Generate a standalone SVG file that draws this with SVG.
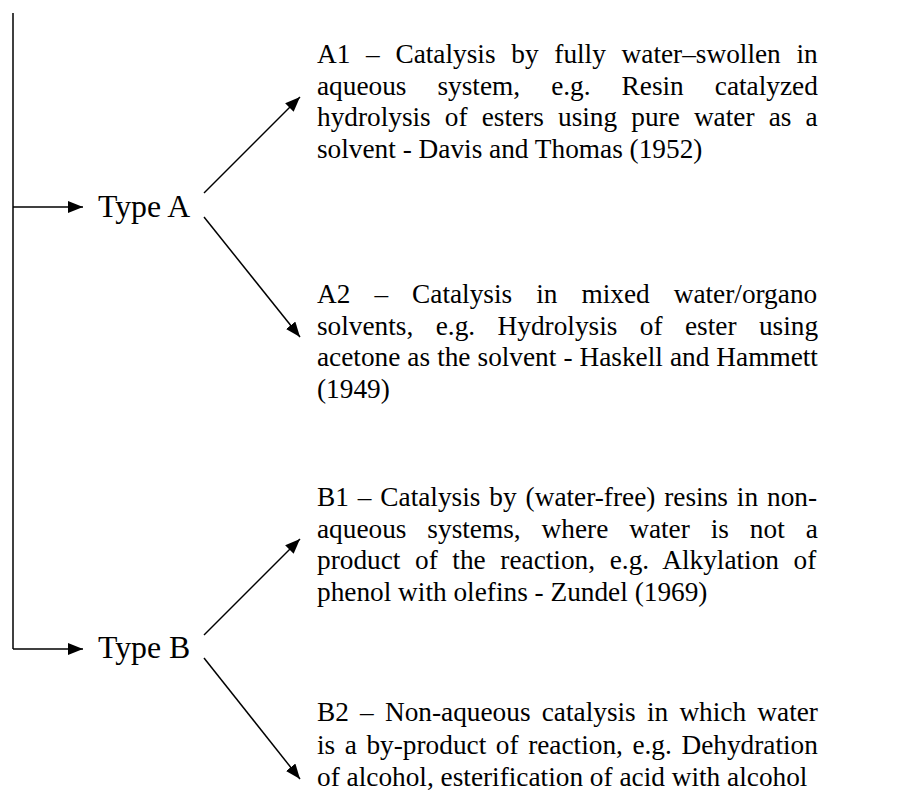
<svg xmlns="http://www.w3.org/2000/svg" width="910" height="800" viewBox="0 0 910 800">
  <style>
    .bg { fill: #ffffff; }
    .conn { fill: none; stroke: #000000; stroke-width: 1.5; }
    .head { fill: #000000; }
    .type { font-family: "Liberation Serif", "Times New Roman", serif; font-size: 31.8px; fill: #000000; }
    .para { font-family: "Liberation Serif", "Times New Roman", serif; font-size: 27.3px; fill: #000000; }
  </style>
  <defs>
    <marker id="arrow" viewBox="0 0 15 12" refX="15" refY="6" markerWidth="15" markerHeight="12" markerUnits="userSpaceOnUse" orient="auto">
      <path class="head" d="M0,0 L15,6 L0,12 Z"/>
    </marker>
  </defs>
  <rect class="bg" x="0" y="0" width="910" height="800"/>

  <g id="connectors">
    <path class="conn" d="M13,13 L13,649"/>
    <path class="conn" d="M13,207 L83,207" marker-end="url(#arrow)"/>
    <path class="conn" d="M13,649 L83,649" marker-end="url(#arrow)"/>
    <path class="conn" d="M204,193 L300,97" marker-end="url(#arrow)"/>
    <path class="conn" d="M204,217 L300,337" marker-end="url(#arrow)"/>
    <path class="conn" d="M204,635 L300,539" marker-end="url(#arrow)"/>
    <path class="conn" d="M204,658 L300,779" marker-end="url(#arrow)"/>
  </g>

  <g id="typeA">
    <text class="type" x="98" y="217">Type A</text>
  </g>
  <g id="typeB">
    <text class="type" x="98" y="658">Type B</text>
  </g>

  <g id="A1">
    <text class="para" x="317" y="63" word-spacing="8.9">A1 – Catalysis by fully water–swollen in</text>
    <text class="para" x="317" y="94.5" word-spacing="24.2">aqueous system, e.g. Resin catalyzed</text>
    <text class="para" x="317" y="126" word-spacing="7.3">hydrolysis of esters using pure water as a</text>
    <text class="para" x="317" y="157.5">solvent - Davis and Thomas (1952)</text>
  </g>

  <g id="A2">
    <text class="para" x="317" y="303" word-spacing="17.2">A2 – Catalysis in mixed water/organo</text>
    <text class="para" x="317" y="334.5" word-spacing="15.6">solvents, e.g. Hydrolysis of ester using</text>
    <text class="para" x="317" y="366" word-spacing="0.2">acetone as the solvent - Haskell and Hammett</text>
    <text class="para" x="317" y="397.5">(1949)</text>
  </g>

  <g id="B1">
    <text class="para" x="317" y="506" word-spacing="2.1">B1 – Catalysis by (water-free) resins in non-</text>
    <text class="para" x="317" y="537.5" word-spacing="14.1">aqueous systems, where water is not a</text>
    <text class="para" x="317" y="569" word-spacing="7.8">product of the reaction, e.g. Alkylation of</text>
    <text class="para" x="317" y="600.5">phenol with olefins - Zundel (1969)</text>
  </g>

  <g id="B2">
    <text class="para" x="317" y="721" word-spacing="4.4">B2 – Non-aqueous catalysis in which water</text>
    <text class="para" x="317" y="753.5" word-spacing="2.75">is a by-product of reaction, e.g. Dehydration</text>
    <text class="para" x="317" y="786">of alcohol, esterification of acid with alcohol</text>
  </g>
</svg>
